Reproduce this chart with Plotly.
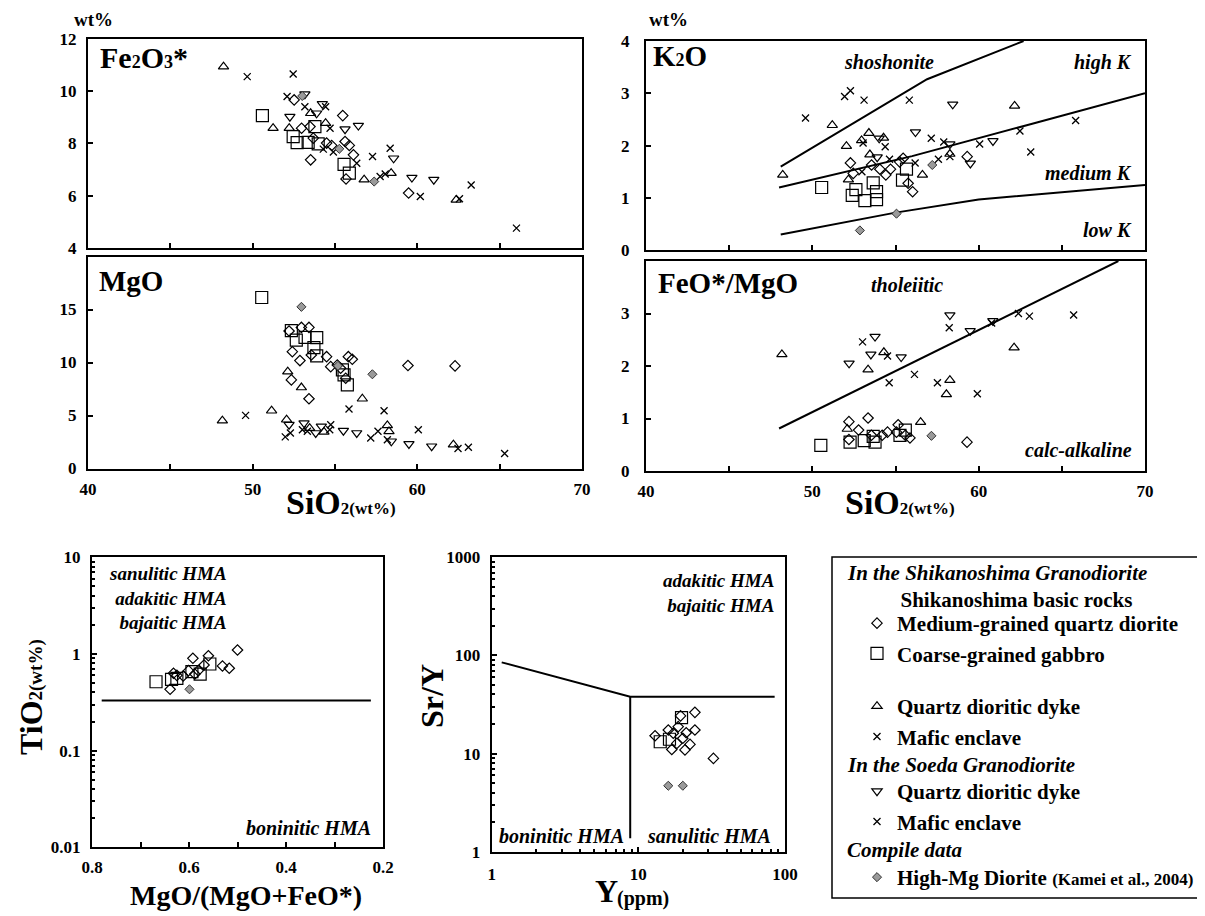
import plotly.graph_objects as go

# The page places the figure 8 px from the top-left corner, so the figure is sized to
# fill the rest of the 1205x916 window and positions are given in window pixels.
WIN_W, WIN_H = 1205, 916
OFF = 8
W, H = WIN_W - OFF, WIN_H - OFF
FONT = "Liberation Serif"

# ------------------------------------------------------------------ data
# Fe2O3* vs SiO2
FE_DIORITE_X = [52.52, 52.97, 53.48, 53.52, 53.68, 54.49, 54.80, 55.47, 55.61, 55.87, 56.12, 55.67, 59.47]
FE_DIORITE_Y = [9.66, 8.58, 8.64, 7.37, 8.20, 8.01, 7.92, 9.06, 8.07, 7.92, 7.56, 6.64, 6.10]
FE_GABBRO_X = [50.59, 52.46, 52.70, 53.37, 53.78, 53.98, 55.55, 55.87]
FE_GABBRO_Y = [9.06, 8.26, 8.03, 8.04, 8.64, 7.98, 7.20, 6.86]
FE_SHDYKE_X = [48.23, 51.24, 52.22, 53.52, 54.43, 56.77, 58.41, 62.36]
FE_SHDYKE_Y = [10.93, 8.58, 8.58, 9.15, 8.77, 6.61, 6.86, 5.84]
FE_SHMAFIC_X = [49.67, 52.46, 52.09, 53.17, 54.43, 54.70, 54.29, 54.90, 56.32]
FE_SHMAFIC_Y = [10.55, 10.65, 9.79, 9.40, 9.40, 8.58, 7.78, 7.67, 7.24]
FE_SODYKE_X = [53.17, 54.23, 53.88, 52.26, 55.61, 56.42, 58.56, 59.67, 61.00]
FE_SODYKE_Y = [9.88, 9.51, 9.15, 9.02, 8.54, 8.68, 7.43, 6.69, 6.61]
FE_SOMAFIC_X = [57.28, 57.74, 58.05, 58.35, 60.18, 62.56, 63.27, 66.02]
FE_SOMAFIC_Y = [7.50, 6.73, 6.83, 7.81, 5.97, 5.88, 6.41, 4.76]
FE_HIGHMG_X = [53.01, 55.26, 57.38]
FE_HIGHMG_Y = [9.81, 7.79, 6.54]

# MgO vs SiO2
MG_DIORITE_X = [52.21, 52.41, 52.96, 53.42, 52.87, 52.35, 53.42, 53.56, 54.49, 54.74, 55.14, 55.34, 55.81, 56.05, 55.65, 59.43, 62.29]
MG_DIORITE_Y = [12.97, 11.02, 13.31, 13.31, 10.18, 8.36, 6.58, 10.71, 10.55, 9.61, 9.77, 9.46, 10.55, 10.30, 8.52, 9.71, 9.68]
MG_GABBRO_X = [50.55, 52.35, 52.65, 53.18, 53.89, 53.72, 53.89, 55.45, 55.55, 55.75]
MG_GABBRO_Y = [16.13, 13.00, 12.12, 12.37, 12.34, 11.40, 10.62, 9.30, 8.83, 7.89]
MG_SHDYKE_X = [48.16, 51.15, 52.13, 52.06, 52.96, 53.46, 54.33, 56.66, 58.18, 58.28, 62.19]
MG_SHDYKE_Y = [4.51, 5.45, 9.14, 4.60, 7.64, 3.80, 3.45, 6.58, 4.07, 3.50, 2.25]
MG_SHMAFIC_X = [49.57, 51.98, 52.29, 53.02, 53.32, 54.74, 54.68, 55.85]
MG_SHMAFIC_Y = [5.01, 2.98, 3.35, 3.66, 3.51, 4.13, 3.66, 5.61]
MG_SODYKE_X = [52.21, 53.12, 53.83, 54.17, 55.51, 56.32, 58.42, 59.49, 60.87]
MG_SODYKE_Y = [4.13, 4.29, 3.35, 3.98, 3.57, 3.35, 2.57, 2.32, 2.10]
MG_SOMAFIC_X = [57.17, 57.61, 57.98, 58.18, 60.06, 62.47, 63.10, 65.30]
MG_SOMAFIC_Y = [2.88, 3.51, 5.45, 2.72, 3.66, 1.88, 2.00, 1.41]
MG_HIGHMG_X = [52.96, 55.18, 57.27]
MG_HIGHMG_Y = [15.25, 9.68, 8.89]

# K2O vs SiO2
K_DIORITE_X = [52.29, 52.46, 53.56, 54.42, 54.70, 55.46, 55.25, 55.76, 56.03, 54.06, 59.31]
K_DIORITE_Y = [1.67, 1.47, 1.63, 1.44, 1.55, 1.76, 1.69, 1.28, 1.12, 1.55, 1.79]
K_GABBRO_X = [50.56, 52.62, 52.40, 53.16, 53.66, 53.86, 53.86, 55.42, 55.66]
K_GABBRO_Y = [1.20, 1.16, 1.05, 0.95, 1.29, 1.12, 0.97, 1.34, 1.55]
K_SHDYKE_X = [48.22, 51.20, 52.05, 52.17, 52.96, 53.40, 53.46, 54.28, 56.62, 58.27, 62.16]
K_SHDYKE_Y = [1.44, 2.39, 1.99, 1.35, 2.10, 2.24, 1.83, 2.15, 1.44, 1.84, 2.76]
K_SHMAFIC_X = [49.59, 51.94, 52.29, 53.11, 55.83, 53.05, 54.38, 54.64, 52.98]
K_SHMAFIC_Y = [2.53, 2.94, 3.05, 2.87, 2.87, 2.05, 1.98, 1.74, 1.50]
K_SODYKE_X = [53.90, 54.02, 56.20, 58.44, 58.27, 59.50, 60.86]
K_SODYKE_Y = [1.78, 2.14, 2.26, 2.79, 2.03, 1.66, 2.09]
K_SOMAFIC_X = [56.18, 57.15, 57.58, 57.90, 58.27, 60.06, 62.48, 63.13, 65.83]
K_SOMAFIC_Y = [1.67, 2.14, 1.74, 2.07, 1.79, 2.03, 2.28, 1.88, 2.48]
K_HIGHMG_X = [52.86, 55.06, 57.21]
K_HIGHMG_Y = [0.38, 0.70, 1.63]

# FeO*/MgO vs SiO2
FM_DIORITE_X = [52.20, 52.20, 52.78, 53.35, 53.55, 54.52, 55.16, 55.06, 55.59, 55.87, 54.20, 59.30]
FM_DIORITE_Y = [0.94, 0.60, 0.78, 1.01, 0.68, 0.74, 0.88, 0.74, 0.68, 0.63, 0.68, 0.55]
FM_GABBRO_X = [50.51, 52.27, 53.12, 53.66, 53.77, 55.27, 55.59]
FM_GABBRO_Y = [0.49, 0.55, 0.58, 0.66, 0.55, 0.68, 0.78]
FM_SHDYKE_X = [48.17, 53.35, 54.30, 52.10, 56.51, 58.27, 58.06, 62.13]
FM_SHDYKE_Y = [2.22, 1.93, 2.26, 0.80, 0.93, 1.73, 1.46, 2.35]
FM_SHMAFIC_X = [53.02, 54.52, 54.62, 56.14]
FM_SHMAFIC_Y = [2.46, 2.19, 1.68, 1.84]
FM_SODYKE_X = [52.21, 53.77, 53.52, 55.34, 58.27, 59.49, 60.85]
FM_SODYKE_Y = [2.05, 2.56, 2.22, 2.17, 2.97, 2.67, 2.86]
FM_SOMAFIC_X = [57.52, 58.23, 59.92, 60.78, 62.39, 63.05, 65.71]
FM_SOMAFIC_Y = [1.68, 2.73, 1.47, 2.82, 3.00, 2.95, 2.97]
FM_HIGHMG_X = [57.16]
FM_HIGHMG_Y = [0.67]

# TiO2 vs MgO/(MgO+FeO*)
TI_DIORITE_X = [0.639, 0.632, 0.612, 0.601, 0.592, 0.581, 0.569, 0.560, 0.531, 0.517, 0.500, 0.625, 0.588]
TI_DIORITE_Y = [0.431, 0.631, 0.592, 0.672, 0.902, 0.672, 0.769, 0.959, 0.752, 0.711, 1.10, 0.600, 0.620]
TI_GABBRO_X = [0.668, 0.636, 0.625, 0.594, 0.577, 0.557]
TI_GABBRO_Y = [0.516, 0.547, 0.560, 0.656, 0.620, 0.787]
TI_HIGHMG_X = [0.599]
TI_HIGHMG_Y = [0.431]

# Sr/Y vs Y
SY_DIORITE_X = [13.0, 16.0, 16.9, 18.7, 19.4, 21.2, 20.8, 22.5, 24.3, 24.3, 20.1, 18.3, 32.5, 17.3]
SY_DIORITE_Y = [15.2, 17.4, 11.0, 18.8, 24.2, 16.3, 10.9, 12.4, 26.3, 17.4, 14.3, 12.7, 8.93, 16.1]
SY_GABBRO_X = [14.1, 16.3, 19.7]
SY_GABBRO_Y = [13.2, 14.0, 23.2]
SY_HIGHMG_X = [16.0, 20.1]
SY_HIGHMG_Y = [4.70, 4.70]

# Discrimination boundaries
K_SHO_X = [48.1, 56.9, 62.7]
K_SHO_Y = [1.6, 3.27, 4.0]
K_HIGH_X = [48.0, 52.0, 56.0, 63.0, 70.0]
K_HIGH_Y = [1.2, 1.5, 1.8, 2.4, 3.0]
K_LOW_X = [48.1, 55.0, 60.0, 70.0]
K_LOW_Y = [0.30, 0.72, 0.97, 1.25]
FM_BOUND_X = [48.0, 68.4]
FM_BOUND_Y = [0.81, 4.0]
TI_BOUND_X = [0.78, 0.225]
TI_BOUND_Y = [0.33, 0.33]
SY_BOUND_X = [1.17, 8.8, 85.0]
SY_BOUND_Y = [85.0, 38.0, 38.0]
SY_VERT_X = [8.8, 8.8]
SY_VERT_Y = [38.0, 1.37]

# ------------------------------------------------------------------ styles
NAMES = {
    "diorite": "Medium-grained quartz diorite",
    "gabbro": "Coarse-grained gabbro",
    "shdyke": "Quartz dioritic dyke",
    "shmafic": "Mafic enclave",
    "sodyke": "Quartz dioritic dyke",
    "somafic": "Mafic enclave",
    "highmg": "High-Mg Diorite <span style='font-size:17px'>(Kamei et al., 2004)</span>",
}
LEGENDS = {"diorite": "legend", "gabbro": "legend", "shdyke": "legend2", "shmafic": "legend2",
           "sodyke": "legend3", "somafic": "legend3", "highmg": "legend4"}
MARKERS = {
    "diorite": dict(symbol="diamond-open", size=8, color="black", line=dict(width=1.2)),
    "gabbro": dict(symbol="square-open", size=12, color="black", line=dict(width=1.2)),
    "shdyke": dict(symbol="triangle-up-open", size=9, color="black", line=dict(width=1.2)),
    "shmafic": dict(symbol="x-thin-open", size=7, color="black", line=dict(width=1.3)),
    "sodyke": dict(symbol="triangle-down-open", size=9, color="black", line=dict(width=1.2)),
    "somafic": dict(symbol="x-thin-open", size=7, color="black", line=dict(width=1.3)),
    "highmg": dict(symbol="diamond", size=7, color="#9a9a9a", line=dict(width=1, color="#333333")),
}

PANELS = [
    ("x", "y", {"diorite": (FE_DIORITE_X, FE_DIORITE_Y), "gabbro": (FE_GABBRO_X, FE_GABBRO_Y),
                "shdyke": (FE_SHDYKE_X, FE_SHDYKE_Y), "shmafic": (FE_SHMAFIC_X, FE_SHMAFIC_Y),
                "sodyke": (FE_SODYKE_X, FE_SODYKE_Y), "somafic": (FE_SOMAFIC_X, FE_SOMAFIC_Y),
                "highmg": (FE_HIGHMG_X, FE_HIGHMG_Y)}),
    ("x2", "y2", {"diorite": (MG_DIORITE_X, MG_DIORITE_Y), "gabbro": (MG_GABBRO_X, MG_GABBRO_Y),
                  "shdyke": (MG_SHDYKE_X, MG_SHDYKE_Y), "shmafic": (MG_SHMAFIC_X, MG_SHMAFIC_Y),
                  "sodyke": (MG_SODYKE_X, MG_SODYKE_Y), "somafic": (MG_SOMAFIC_X, MG_SOMAFIC_Y),
                  "highmg": (MG_HIGHMG_X, MG_HIGHMG_Y)}),
    ("x3", "y3", {"diorite": (K_DIORITE_X, K_DIORITE_Y), "gabbro": (K_GABBRO_X, K_GABBRO_Y),
                  "shdyke": (K_SHDYKE_X, K_SHDYKE_Y), "shmafic": (K_SHMAFIC_X, K_SHMAFIC_Y),
                  "sodyke": (K_SODYKE_X, K_SODYKE_Y), "somafic": (K_SOMAFIC_X, K_SOMAFIC_Y),
                  "highmg": (K_HIGHMG_X, K_HIGHMG_Y)}),
    ("x4", "y4", {"diorite": (FM_DIORITE_X, FM_DIORITE_Y), "gabbro": (FM_GABBRO_X, FM_GABBRO_Y),
                  "shdyke": (FM_SHDYKE_X, FM_SHDYKE_Y), "shmafic": (FM_SHMAFIC_X, FM_SHMAFIC_Y),
                  "sodyke": (FM_SODYKE_X, FM_SODYKE_Y), "somafic": (FM_SOMAFIC_X, FM_SOMAFIC_Y),
                  "highmg": (FM_HIGHMG_X, FM_HIGHMG_Y)}),
    ("x5", "y5", {"diorite": (TI_DIORITE_X, TI_DIORITE_Y), "gabbro": (TI_GABBRO_X, TI_GABBRO_Y),
                  "highmg": (TI_HIGHMG_X, TI_HIGHMG_Y)}),
    ("x6", "y6", {"diorite": (SY_DIORITE_X, SY_DIORITE_Y), "gabbro": (SY_GABBRO_X, SY_GABBRO_Y),
                  "highmg": (SY_HIGHMG_X, SY_HIGHMG_Y)}),
]

BOUNDARIES = [
    ("x3", "y3", K_SHO_X, K_SHO_Y), ("x3", "y3", K_HIGH_X, K_HIGH_Y), ("x3", "y3", K_LOW_X, K_LOW_Y),
    ("x4", "y4", FM_BOUND_X, FM_BOUND_Y), ("x5", "y5", TI_BOUND_X, TI_BOUND_Y),
    ("x6", "y6", SY_BOUND_X, SY_BOUND_Y), ("x6", "y6", SY_VERT_X, SY_VERT_Y),
]

fig = go.Figure()
for xa, ya, bx, by in BOUNDARIES:
    fig.add_trace(go.Scatter(x=bx, y=by, xaxis=xa, yaxis=ya, mode="lines",
                             line=dict(color="black", width=2), showlegend=False, hoverinfo="skip"))

ORDER = ["diorite", "gabbro", "shdyke", "shmafic", "sodyke", "somafic", "highmg"]
for i, (xa, ya, series) in enumerate(PANELS):
    for key in ORDER:
        if key not in series:
            continue
        sx, sy = series[key]
        fig.add_trace(go.Scatter(x=sx, y=sy, xaxis=xa, yaxis=ya, mode="markers",
                                 marker=MARKERS[key], name=NAMES[key], legend=LEGENDS[key],
                                 showlegend=(i == 0)))


def px2x(p):
    return (p - OFF) / W


def py2y(p):
    return 1 - (p - OFF) / H


TICKFONT = dict(family=FONT, size=17, color="black", weight="bold")


def axis(dom, **kw):
    d = dict(domain=dom, showline=True, mirror=True, linecolor="black", linewidth=2,
             ticks="inside", ticklen=5, tickwidth=1.5, tickcolor="black", automargin=False,
             showgrid=False, zeroline=False, tickfont=TICKFONT, fixedrange=True)
    d.update(kw)
    return d


XL = [px2x(88), px2x(582)]
XR = [px2x(646), px2x(1145)]
SIO2_TICKS = [40, 45, 50, 55, 60, 65, 70]
SIO2_TEXT = ["40", "", "50", "", "60", "", "70"]
MINOR_LOG = dict(ticks="inside", ticklen=3, tickcolor="black", dtick="D1", showgrid=False)

fig.update_layout(
    template="none",
    xaxis=axis(XL, range=[40, 70], tickvals=SIO2_TICKS, showticklabels=False, anchor="y"),
    yaxis=axis([py2y(248), py2y(38.7)], range=[4, 12], tickvals=[4, 6, 8, 10, 12], anchor="x",
               ticklabelstandoff=6),
    xaxis2=axis(XL, range=[40, 70], tickvals=SIO2_TICKS, ticktext=SIO2_TEXT, anchor="y2",
                ticklabelstandoff=4),
    yaxis2=axis([py2y(468.5), py2y(256.5)], range=[0, 20], tickvals=[0, 5, 10, 15], anchor="x2",
                ticklabelstandoff=6),
    xaxis3=axis(XR, range=[40, 70], tickvals=SIO2_TICKS, showticklabels=False, anchor="y3"),
    yaxis3=axis([py2y(250.3), py2y(41)], range=[0, 4], tickvals=[0, 1, 2, 3, 4], anchor="x3",
                ticklabelstandoff=11),
    xaxis4=axis(XR, range=[40, 70], tickvals=SIO2_TICKS, ticktext=SIO2_TEXT, anchor="y4",
                ticklabelstandoff=4),
    yaxis4=axis([py2y(471), py2y(261)], range=[0, 4], tickvals=[0, 1, 2, 3], anchor="x4",
                ticklabelstandoff=11),
    xaxis5=axis([px2x(92), px2x(383)], range=[0.8, 0.2],
                tickvals=[0.8, 0.7, 0.6, 0.5, 0.4, 0.3, 0.2],
                ticktext=["0.8", "", "0.6", "", "0.4", "", "0.2"], anchor="y5", ticklabelstandoff=3),
    yaxis5=axis([py2y(847.3), py2y(557.3)], type="log", range=[-2, 1],
                tickvals=[0.01, 0.1, 1, 10], ticktext=["0.01", "0.1", "1", "10"],
                minor=MINOR_LOG, anchor="x5", ticklabelstandoff=6),
    xaxis6=axis([px2x(491.7), px2x(785)], type="log", range=[0, 2],
                tickvals=[1, 10, 100], ticktext=["1", "10", "100"], minor=MINOR_LOG,
                anchor="y6", ticklabelstandoff=6),
    yaxis6=axis([py2y(851.7), py2y(557.3)], type="log", range=[0, 3],
                tickvals=[1, 10, 100, 1000], ticktext=["1", "10", "100", "1000"], minor=MINOR_LOG,
                anchor="x6", ticklabelstandoff=6),
)

LEG_FONT = dict(family=FONT, size=21, color="black", weight="bold")
LEGEND_X = 857
LEGEND_TOPS = {"legend": 603, "legend2": 686, "legend3": 771, "legend4": 857}
for lname, top in LEGEND_TOPS.items():
    fig.layout[lname] = dict(x=px2x(LEGEND_X), y=py2y(top), xanchor="left", yanchor="top",
                             bgcolor="rgba(0,0,0,0)", borderwidth=0, font=LEG_FONT,
                             traceorder="normal", itemclick=False, itemdoubleclick=False)

# ------------------------------------------------------------------ text
SUB = "<span style='font-size:18px'>{}</span>"
NB = "\u00a0"
TEXTS = [
    # text, px, py, anchor, size, italic, angle
    ("wt%", 93, 19, "center", 19, False, 0),
    ("wt%", 668, 20, "center", 19, False, 0),
    ("Fe" + SUB.format("2") + "O" + SUB.format("3") + "*", 98, 57, "left", 30, False, 0),
    ("MgO", 97, 281, "left", 29, False, 0),
    ("K" + SUB.format("2") + "O", 651, 56, "left", 29, False, 0),
    ("FeO*/MgO", 656, 283, "left", 29, False, 0),
    ("SiO<span style='font-size:17px'>2(wt%)</span>", 341, 503, "center", 34, False, 0),
    ("SiO<span style='font-size:17px'>2(wt%)</span>", 900, 503, "center", 34, False, 0),
    ("TiO<span style='font-size:19px'>2(wt%)</span>", 31, 697, "center", 32, False, -90),
    ("MgO/(MgO+FeO*)", 246, 895, "center", 28, False, 0),
    ("Sr/Y", 432, 696, "center", 32, False, -90),
    ("Y", 606, 891, "center", 32, False, 0),
    ("(ppm)", 643, 898, "center", 20, False, 0),
    ("shoshonite", 889, 62, "center", 20, True, 0),
    ("high K", 1134, 62, "right", 20, True, 0),
    ("medium K", 1134, 173, "right", 20, True, 0),
    ("low K", 1134, 230, "right", 20, True, 0),
    ("tholeiitic", 907, 285, "center", 20, True, 0),
    ("calc-alkaline", 1134, 450, "right", 20, True, 0),
    ("sanulitic HMA<br>adakitic HMA<br>bajaitic HMA", 229, 598, "right", 19, True, 0),
    ("boninitic HMA", 373, 828, "right", 20, True, 0),
    ("adakitic HMA<br>bajaitic HMA", 776, 593, "right", 19, True, 0),
    ("boninitic HMA", 497, 836, "left", 20, True, 0),
    ("sanulitic HMA", 773, 836, "right", 20, True, 0),
    ("<i>In the Shikanoshima Granodiorite</i><br><span style='font-style:normal'>" + NB * 10
     + "Shikanoshima basic rocks</span>", 845, 586, "left", 21, False, 0),
    ("In the Soeda Granodiorite", 845, 765, "left", 21, True, 0),
    ("Compile data", 845, 850, "left", 21, True, 0),
]
annotations = []
for text, px, py, anchor, size, italic, angle in TEXTS:
    annotations.append(dict(text=text, x=px2x(px), y=py2y(py), xref="paper", yref="paper",
                            xanchor=anchor, yanchor="middle", showarrow=False, textangle=angle,
                            align=anchor if anchor != "center" else "center",
                            font=dict(family=FONT, size=size, color="black", weight="bold",
                                      style="italic" if italic else "normal")))

fig.update_layout(
    width=W, height=H, autosize=False,
    margin=dict(l=0, r=0, t=0, b=0, autoexpand=False),
    paper_bgcolor="white", plot_bgcolor="white",
    annotations=annotations,
    shapes=[dict(type="rect", xref="paper", yref="paper",
                 x0=px2x(832), x1=px2x(1202), y0=py2y(898), y1=py2y(557),
                 line=dict(color="black", width=1.5), fillcolor="rgba(0,0,0,0)")],
    hovermode=False,
)

fig.write_html("out.html")
